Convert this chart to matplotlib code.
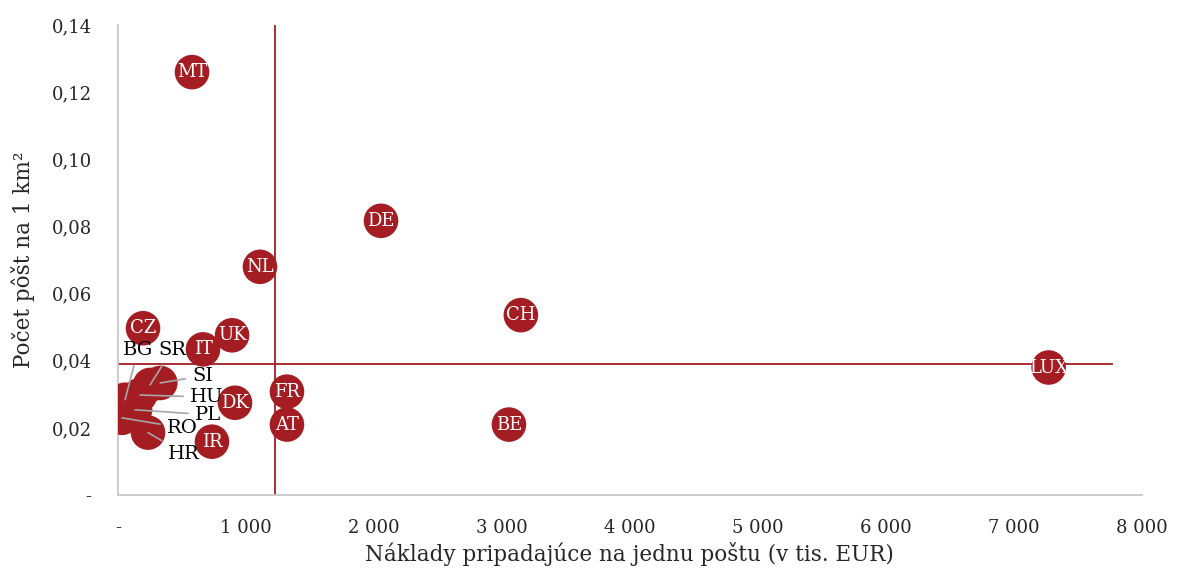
import matplotlib
matplotlib.use("Agg")
import matplotlib.pyplot as plt
from matplotlib.ticker import FuncFormatter

# naklady na postu (tis. EUR) vs. pocet post na km2
countries = ["MT", "DE", "NL", "CH", "CZ", "UK", "IT", "LUX", "FR", "DK", "AT", "BE", "IR",
             "BG", "SR", "SI", "HU", "PL", "RO", "HR"]
cost = [578, 2055, 1109, 3148, 195, 891, 664, 7273, 1320, 914, 1320, 3055, 734,
        55, 250, 330, 172, 133, 31, 234]
density = [0.126, 0.0817, 0.068, 0.0536, 0.0497, 0.0476, 0.0434, 0.038, 0.0308, 0.0275,
           0.021, 0.021, 0.0159,
           0.0284, 0.0328, 0.0334, 0.0298, 0.0254, 0.0230, 0.0186]
# average lines
avg_cost = 1227
avg_density = 0.0389
avg_line_end = 7770

# labels drawn outside the bubble: (dx px, dy px, ha)
outside = {"BG": (13, 50, "center"), "SR": (22, 35, "center"), "SI": (32, 7, "left"),
           "HU": (50, -2, "left"), "PL": (60, -5, "left"), "RO": (45, -10, "left"),
           "HR": (20, -21, "left")}

RED = "#A31D22"
TXT = "#262626"
plt.rcParams["font.family"] = ["DejaVu Serif"]

fig = plt.figure(figsize=(11.77, 5.71), dpi=100)
ax = fig.add_axes([0.1003, 0.133, 0.8697, 0.823])

ax.scatter(cost, density, s=620, color=RED, edgecolors="none", zorder=3)
ax.plot([avg_cost, avg_cost], [0, 0.14], color=RED, lw=1.3, zorder=2)
ax.plot([0, avg_line_end], [avg_density, avg_density], color=RED, lw=1.3, zorder=2)

for c, x, y in zip(countries, cost, density):
    if c in outside:
        dx, dy, ha = outside[c]
        ax.annotate(c, (x, y), xytext=(dx, dy), textcoords="offset pixels",
                    ha=ha, va="center", fontsize=14, color="black", zorder=4,
                    arrowprops=dict(arrowstyle="-", color="#A6A6A6", lw=1.2,
                                    shrinkA=3, shrinkB=0))
    else:
        ax.text(x, y, c, ha="center", va="center", color="white", fontsize=13,
                zorder=5)

ax.set_xlim(0, 8000)
ax.set_ylim(0, 0.14)
ax.set_xticks(range(0, 8001, 1000))
ax.set_yticks([0, 0.02, 0.04, 0.06, 0.08, 0.10, 0.12, 0.14])
ax.xaxis.set_major_formatter(FuncFormatter(
    lambda v, p: "-" if v == 0 else f"{int(v):,}".replace(",", " ")))
ax.yaxis.set_major_formatter(FuncFormatter(
    lambda v, p: "-" if v == 0 else f"{v:.2f}".replace(".", ",")))
ax.tick_params(axis="both", length=0, labelsize=13, colors=TXT)
ax.tick_params(axis="x", pad=17)
ax.tick_params(axis="y", pad=19)

for s in ["top", "right"]:
    ax.spines[s].set_visible(False)
for s in ["left", "bottom"]:
    ax.spines[s].set_color("#C8C8C8")
    ax.spines[s].set_linewidth(1.3)

ax.set_xlabel("Náklady pripadajúce na jednu poštu (v tis. EUR)", fontsize=15.5,
              color=TXT, labelpad=4)
ax.set_ylabel("Počet pôšt na 1 km²", fontsize=15.5, color=TXT, labelpad=12)

fig.savefig("out.png", dpi=100)
